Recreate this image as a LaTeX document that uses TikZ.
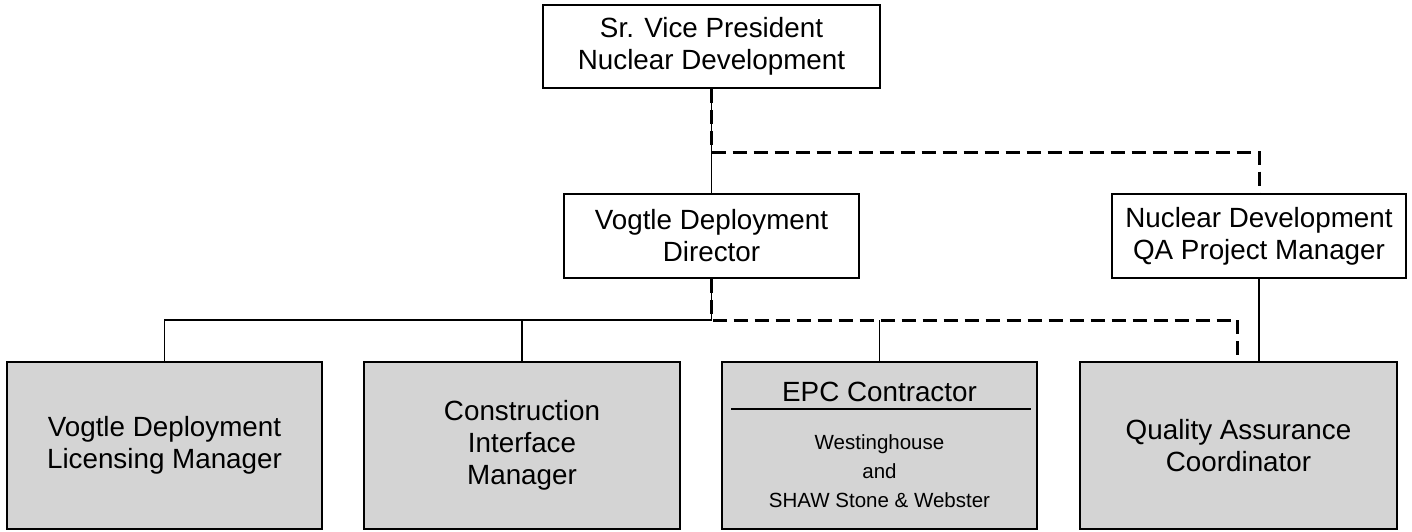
\documentclass[tikz,border=0pt]{standalone}
\usepackage{fontspec}
\setmainfont{Liberation Sans}
\usetikzlibrary{calc}
\definecolor{boxgrey}{RGB}{212,212,212}
\tikzset{
  orgbox/.style={draw=black, line width=2pt, fill=white, inner sep=0pt, align=center,
    font=\fontsize{27.8}{32}\selectfont},
  greybox/.style={orgbox, fill=boxgrey},
  conn/.style={line width=1.6pt},
  dotconn/.style={line width=3pt, dash pattern=on 14pt off 7pt},
  smalltext/.style={inner sep=0pt, align=center, font=\fontsize{20.5}{29}\selectfont},
  bigtext/.style={inner sep=0pt, align=center, font=\fontsize{27.8}{32}\selectfont}
}
\begin{document}
\begin{tikzpicture}[x=1pt,y=-1pt]
\useasboundingbox (0,0) rectangle (1412,531);
% boxes
\node[orgbox, minimum width=337pt, minimum height=83pt] (top) at (711.5,46.5) {Sr. Vice President\\Nuclear Development};
\node[orgbox, minimum width=295pt, minimum height=84pt] (dir) at (711.5,236) {Vogtle Deployment\\Director};
\node[orgbox, minimum width=294pt, minimum height=84pt] (qapm) at (1259,236) {Nuclear Development\\QA Project Manager};
\node[greybox, minimum width=315pt, minimum height=167pt] (b1) at (164.5,445.5) {Vogtle Deployment\\Licensing Manager};
\node[greybox, minimum width=316pt, minimum height=167pt] (b2) at (522,445.5) {Construction\\Interface\\Manager};
\node[greybox, minimum width=315pt, minimum height=167pt] (b3) at (879.5,445.5) {};
\node[greybox, minimum width=317pt, minimum height=167pt] (b4) at (1238.5,445.5) {Quality Assurance\\Coordinator};
% EPC contents
\node[bigtext] (epc) at ($(b3.north)+(0,31)$) {EPC Contractor};
\coordinate (sepL) at ($(b3.north west)+(10,48)$);
\coordinate (sepR) at ($(b3.north east)+(-7,48)$);
\draw[line width=1.6pt] (sepL) -- (sepR);
\node[smalltext] (epcsub) at ($(b3.north)+(0,110)$) {Westinghouse\\and\\SHAW Stone \& Webster};
% connector points
\coordinate (j1) at (711.5,152);
\coordinate (bus) at (711.5,320);
% solid connectors
\draw[conn] (top.south) -- (dir.north);
\draw[conn] (dir.south) -- (bus) -- (bus -| b1.north) -- (b1.north);
\draw[conn] (b2.north) -- (b2.north |- bus);
\draw[conn] (b3.north) -- (b3.north |- bus);
\draw[conn] (qapm.south) -- (qapm.south |- b4.north);
% dashed connectors
\draw[dotconn] (top.south) -- (j1) -| (qapm.north);
\draw[dotconn] (dir.south) -- (bus) -| ($(b4.north)+(-1,0)$);
\end{tikzpicture}
\end{document}
